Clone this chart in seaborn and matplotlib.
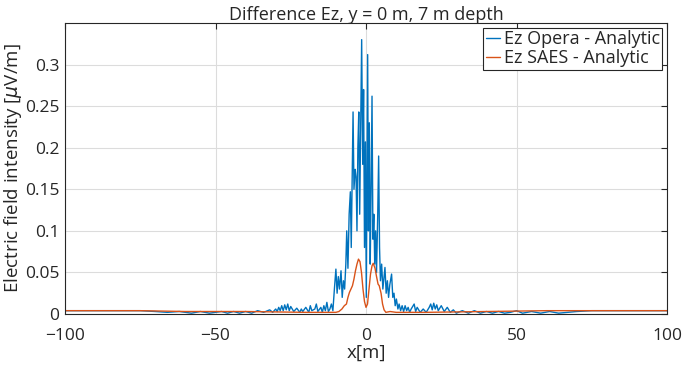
import numpy as np
import pandas as pd
import matplotlib
matplotlib.use('Agg')
import matplotlib.pyplot as plt
import seaborn as sns

# Ez Opera - Analytic (blue)
opera_x = [-100, -80, -75, -70, -66, -62, -58, -55, -52, -50, -48, -46, -44, -42, -40,
           -38, -36, -34, -32, -31, -30, -29.5, -29, -28.5, -28, -27.5, -27, -26.5, -26,
           -25.5, -25, -24, -23, -22, -21.5, -21, -20, -19, -18.5, -18, -17, -16.5, -16,
           -15, -14.5, -14, -13.5, -13, -12.5,
           -12.0, -11.5, -11.0, -10.5, -10.0, -9.6, -9.2, -8.8, -8.3, -7.9, -7.5, -7.1,
           -6.7, -6.4, -6.0, -5.6, -5.2, -4.9, -4.6, -4.3, -4.0, -3.6, -3.3, -3.0, -2.7,
           -2.4, -2.1, -1.8, -1.44, -1.1, -0.8, -0.5, -0.2, 0.1, 0.3, 0.55, 0.8, 1.1, 1.4,
           1.7, 2.0, 2.3, 2.6, 2.9, 3.2, 3.5, 3.9, 4.2, 4.5, 4.8, 5.2, 5.6, 6.0, 6.3, 6.7,
           7.1, 7.5, 7.9, 8.5, 8.9, 9.3, 9.7, 10.1, 10.6, 11.0, 11.5, 12.0,
           12.5, 13, 13.5, 14, 14.5, 15, 16, 16.5, 17, 18, 19, 20, 21, 21.5, 22, 22.5, 23,
           23.5, 24, 25, 26, 27, 28, 29, 30, 32, 34, 36, 38, 40, 42, 44, 46, 48, 50, 52,
           55, 58, 61, 64, 67, 70, 75, 80, 100]
opera_y = [0.004, 0.004, 0.004, 0.003, 0.002, 0.003, 0.001, 0.003, 0.001, 0.002, 0.003, 0.001, 0.003, 0.001, 0.003,
           0.001, 0.004, 0.002, 0.005, 0.002, 0.006, 0.003, 0.008, 0.004, 0.010, 0.004, 0.011, 0.005, 0.012,
           0.004, 0.009, 0.003, 0.007, 0.002, 0.006, 0.003, 0.008, 0.002, 0.010, 0.004, 0.006, 0.012, 0.003,
           0.008, 0.002, 0.010, 0.004, 0.014, 0.003,
           0.006, 0.012, 0.004, 0.030, 0.054, 0.025, 0.045, 0.030, 0.052, 0.020, 0.040, 0.030,
           0.060, 0.100, 0.055, 0.120, 0.147, 0.080, 0.160, 0.243, 0.150, 0.174, 0.165, 0.100, 0.200,
           0.243, 0.120, 0.220, 0.330, 0.180, 0.270, 0.080, 0.207, 0.020, 0.150, 0.312, 0.100, 0.230, 0.060,
           0.150, 0.262, 0.090, 0.120, 0.060, 0.100, 0.050, 0.120, 0.190, 0.080, 0.040, 0.060, 0.030, 0.045, 0.056, 0.025,
           0.040, 0.020, 0.035, 0.048, 0.020, 0.025, 0.010, 0.018, 0.006, 0.012, 0.004, 0.010,
           0.003, 0.010, 0.004, 0.008, 0.002, 0.006, 0.012, 0.003, 0.008, 0.002, 0.006, 0.002, 0.008, 0.012, 0.005, 0.013, 0.006,
           0.011, 0.004, 0.010, 0.003, 0.008, 0.002, 0.005, 0.001, 0.004, 0.001, 0.004, 0.001, 0.003, 0.001, 0.003, 0.001, 0.002, 0.004, 0.001,
           0.003, 0.001, 0.003, 0.001, 0.002, 0.003, 0.004, 0.004, 0.004]

# Ez SAES - Analytic (orange)
saes_x = [-100, -75, -60, -40, -20, -12, -10, -9, -8, -7.2, -6.5, -6, -5.5, -5, -4.5, -4,
          -3.5, -3, -2.5, -2, -1.5, -1, -0.5, 0, 0.5, 1, 1.5, 2, 2.4, 3, 3.5, 4, 4.4, 5,
          5.5, 6, 6.6, 8, 10, 20, 40, 60, 100]
saes_y = [0.004, 0.004, 0.003, 0.003, 0.002, 0.002, 0.002, 0.003, 0.006, 0.010, 0.012, 0.020, 0.026, 0.030, 0.034, 0.042,
          0.052, 0.060, 0.066, 0.063, 0.050, 0.030, 0.015, 0.008, 0.012, 0.030, 0.048, 0.058, 0.061, 0.055, 0.045, 0.036, 0.034, 0.025,
          0.012, 0.005, 0.002, 0.003, 0.002, 0.002, 0.003, 0.004, 0.004]

x_ticks = [-100, -50, 0, 50, 100]
y_ticks = [0, 0.05, 0.1, 0.15, 0.2, 0.25, 0.3]
y_tick_labels = ['0', '0.05', '0.1', '0.15', '0.2', '0.25', '0.3']

sns.set_style('whitegrid')
plt.rcParams['font.family'] = ['Open Sans', 'DejaVu Sans']

fig = plt.figure(figsize=(6.85, 3.74), dpi=100)
# axes box: x 65..667 px, y 23..314 px
ax = fig.add_axes([65 / 685, 1 - 314 / 374, 602 / 685, 291 / 374])

sns.lineplot(x=opera_x, y=opera_y, ax=ax, color='#0072BD', lw=1.0,
             label='Ez Opera - Analytic', sort=False)
sns.lineplot(x=saes_x, y=saes_y, ax=ax, color='#D95319', lw=1.0,
             label='Ez SAES - Analytic', sort=False)

ax.set_xlim(-100, 100)
ax.set_ylim(0, 0.35)
ax.set_xticks(x_ticks)
ax.set_yticks(y_ticks)
ax.set_yticklabels(y_tick_labels)
ax.tick_params(labelsize=12.5, direction='in', length=4, color='#262626',
               top=True, right=True)
ax.tick_params(axis='x', pad=10)
ax.tick_params(axis='y', pad=4)
ax.grid(True, color='#dcdcdc', lw=0.8)
for s in ax.spines.values():
    s.set_color('#262626')
    s.set_linewidth(0.8)

ax.set_title('Difference Ez, y = 0 m, 7 m depth', fontsize=13, pad=2)
ax.set_xlabel('x[m]', fontsize=13.5, labelpad=0)
ax.set_ylabel(r'Electric field intensity [$\mu$V/m]', fontsize=13.5, labelpad=1)

leg = ax.legend(loc='upper right', fontsize=13, frameon=True, fancybox=False,
                borderaxespad=0.25, handlelength=0.8, handletextpad=0.2,
                labelspacing=0.05, borderpad=0.15)
leg.get_frame().set_edgecolor('#262626')
leg.get_frame().set_linewidth(0.8)
leg.get_frame().set_alpha(1)

fig.savefig('out.png', dpi=100)
